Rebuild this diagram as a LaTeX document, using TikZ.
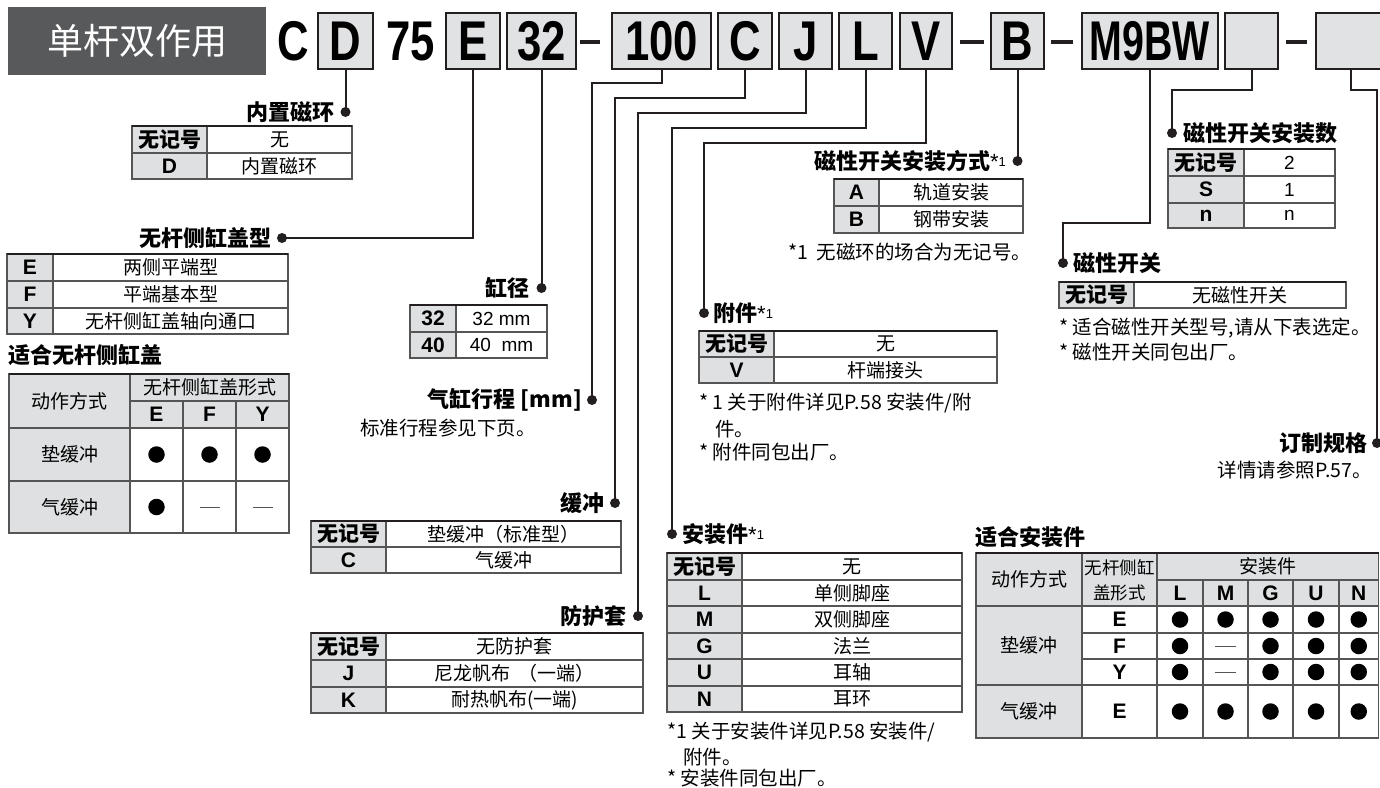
\documentclass[tikz,border=0pt]{standalone}
\usepackage{fontspec}
\setmainfont{Noto Sans CJK SC}
\newfontfamily\lat{Liberation Sans}
\newfontfamily\codefont[FakeStretch=0.78]{Liberation Sans Bold}
\definecolor{ink}{HTML}{231F20}
\definecolor{hdr}{HTML}{58595B}
\definecolor{boxgray}{HTML}{E1E2E3}
\definecolor{keyfill}{HTML}{DFE0E1}
\definecolor{tgray}{HTML}{555555}
\newcommand\kvrow[8]{%
  \fill[keyfill] (#2,#5) rectangle (#3,#6);
  \draw[tline] (#2,#5) rectangle (#4,#6);
  \draw[tline] (#3,#5) -- (#3,#6);
  \node[keyt] (#1k) at ({(#2+#3)/2},{(#5+#6)/2}) {#7};
  \node[valt] (#1v) at ({(#3+#4)/2},{(#5+#6)/2}) {#8};
}
\newcommand\astone{{\lat\mdseries\fontsize{22}{22}\selectfont *}\raisebox{3pt}{\lat\mdseries\fontsize{13}{13}\selectfont 1}}
\begin{document}
\begin{tikzpicture}[x=1pt,y=-1pt,
  codebox/.style={draw=ink, line width=2pt, fill=boxgray, minimum height=56pt, inner sep=0pt,
    font=\codefont\fontsize{56}{56}\selectfont, text depth=0pt},
  codetxt/.style={font=\codefont\fontsize{56}{56}\selectfont, inner sep=0pt, text depth=0pt},
  lbl/.style={font=\bfseries\fontsize{22}{24}\selectfont, inner sep=0pt},
  note/.style={font=\fontsize{19.5}{21}\selectfont, inner sep=0pt, anchor=west},
  ldot/.style={circle, fill=ink, inner sep=0pt, minimum size=10pt},
  conn/.style={draw=ink, line width=2pt},
  keyt/.style={font=\bfseries\fontsize{21}{21}\selectfont, inner sep=0pt},
  valt/.style={font=\fontsize{19}{19}\selectfont, inner sep=0pt},
  hdt/.style={font=\fontsize{19}{19}\selectfont, inner sep=0pt},
  lett/.style={font=\lat\bfseries\fontsize{21}{21}\selectfont, inner sep=0pt},
  tline/.style={draw=tgray, line width=1.3pt},
  topline/.style={draw=ink, line width=2.5pt},
  bigdot/.style={circle, fill=black, inner sep=0pt, minimum size=16.5pt},
  nodash/.style={draw=tgray, line width=1pt},
]
\useasboundingbox (0,0) rectangle (1380,787);

% ---------- header ----------
\node[fill=hdr, minimum width=258pt, minimum height=68pt, inner sep=0pt,
      text=white, font=\fontsize{36}{36}\selectfont] (hd) at (137,41) {单杆双作用};
\node[codetxt] (tC) at (293,41) {C};
\node[codebox, minimum width=55pt] (bD) at (345.5,41) {D};
\node[codetxt] (t75) at (411,41) {75};
\node[codebox, minimum width=54pt] (bE) at (473,41) {E};
\node[codebox, minimum width=69pt] (b32) at (541.5,41) {32};
\fill[ink] (580,39.5) rectangle (600,43.5);
\node[codebox, minimum width=99pt] (b100) at (661.5,41) {100};
\node[codebox, minimum width=54pt] (bC) at (745,41) {C};
\node[codebox, minimum width=53pt] (bJ) at (805.5,41) {J};
\node[codebox, minimum width=53pt] (bL) at (865.5,41) {L};
\node[codebox, minimum width=52pt] (bV) at (926,41) {V};
\fill[ink] (960,39.5) rectangle (984,43.5);
\node[codebox, minimum width=53pt] (bB) at (1017.5,41) {B};
\fill[ink] (1051,39.5) rectangle (1073,43.5);
\node[codebox, minimum width=136pt] (bM) at (1150,41) {\scalebox{0.9}[1]{M9BW}};
\node[codebox, minimum width=53pt] (bX1) at (1251.5,41) {};
\fill[ink] (1286,39.5) rectangle (1307,43.5);
\node[codebox, minimum width=70pt] (bX2) at (1351,41) {};

% ---------- labels, dots, connectors ----------
\node[lbl, anchor=east] (lD) at (335,112) {内置磁环};
\node[ldot] (dD) at (345.5,112) {};
\draw[conn] (dD.center) -- (bD.south);

\node[lbl, anchor=east] (lE) at (272,238) {无杆侧缸盖型};
\node[ldot] (dE) at (282,238) {};
\draw[conn] (dE.center) -| (bE.south);

\node[lbl, anchor=east] (l32) at (530,288) {缸径};
\node[ldot] (d32) at (541.5,288) {};
\draw[conn] (d32.center) -- (b32.south);

\node[lbl, anchor=east] (lP) at (582,400) {气缸行程 [mm]};
\node[ldot] (dP) at (592,400) {};
\coordinate (kP) at (661.5,83);
\draw[conn] (dP.center) |- (kP) -- (b100.south);

\node[lbl, anchor=east] (lC) at (605,503) {缓冲};
\node[ldot] (dC) at (615,503) {};
\coordinate (kC) at (745,98);
\draw[conn] (dC.center) |- (kC) -- (bC.south);

\node[lbl, anchor=east] (lJ) at (627,616) {防护套};
\node[ldot] (dJ) at (638,616) {};
\coordinate (kJ) at (805.5,113);
\draw[conn] (dJ.center) |- (kJ) -- (bJ.south);

\node[ldot] (dL) at (672,534) {};
\node[lbl, anchor=west] (lL) at (682,534) {安装件\astone};
\coordinate (kL) at (865.5,128);
\draw[conn] (dL.center) |- (kL) -- (bL.south);

\node[ldot] (dV) at (704,313) {};
\node[lbl, anchor=west] (lV) at (713,313) {附件\astone};
\coordinate (kV) at (926,143);
\draw[conn] (dV.center) |- (kV) -- (bV.south);

\node[lbl, anchor=east] (lB) at (1006,161) {磁性开关安装方式\astone};
\node[ldot] (dB) at (1017.5,161) {};
\draw[conn] (dB.center) -- (bB.south);

\node[ldot] (dN) at (1172,133) {};
\node[lbl, anchor=west] (lN) at (1183,133) {磁性开关安装数};
\coordinate (kN) at (1251.5,90);
\draw[conn] (dN.center) |- (kN) -- (bX1.south);

\node[ldot] (dM) at (1063,263) {};
\node[lbl, anchor=west] (lM) at (1073,263) {磁性开关};
\coordinate (kM) at (1150,223);
\draw[conn] (dM.center) |- (kM) -- (bM.south);

\node[lbl, anchor=east] (lO) at (1368,443) {订制规格};
\node[ldot] (dO) at (1377,443) {};
\coordinate (kO) at (1351,90);
\draw[conn] (dO.center) |- (kO) -- (bX2.south);

% ---------- tables ----------
\kvrow{ta1}{132}{207}{352}{126}{153}{无记号}{无}
\kvrow{ta2}{132}{207}{352}{153}{179}{\lat D}{内置磁环}
\draw[topline] (132,126) -- (352,126);

\kvrow{tb1}{7}{53}{288}{254}{281}{\lat E}{两侧平端型}
\kvrow{tb2}{7}{53}{288}{281}{308}{\lat F}{平端基本型}
\kvrow{tb3}{7}{53}{288}{308}{334}{\lat Y}{无杆侧缸盖轴向通口}
\draw[topline] (7,254) -- (288,254);

\kvrow{tc1}{410}{456}{547}{305}{332}{\lat 32}{\lat 32 mm}
\kvrow{tc2}{410}{456}{547}{332}{358}{\lat 40}{\lat 40\ \ mm}
\draw[topline] (410,305) -- (547,305);

\kvrow{td1}{311}{386}{621}{521}{547}{无记号}{垫缓冲（标准型）}
\kvrow{td2}{311}{386}{621}{547}{573}{\lat C}{气缓冲}
\draw[topline] (311,521) -- (621,521);

\kvrow{te1}{311}{386}{643}{633}{660}{无记号}{无防护套}
\kvrow{te2}{311}{386}{643}{660}{687}{\lat J}{尼龙帆布\ \ （一端）}
\kvrow{te3}{311}{386}{643}{687}{713}{\lat K}{耐热帆布(一端)}
\draw[topline] (311,633) -- (643,633);

\kvrow{tf1}{699}{774}{997}{331}{357}{无记号}{无}
\kvrow{tf2}{699}{774}{997}{357}{383}{\lat V}{杆端接头}
\draw[topline] (699,331) -- (997,331);

\kvrow{tg1}{667}{742}{962}{553}{580}{无记号}{无}
\kvrow{tg2}{667}{742}{962}{580}{606}{\lat L}{单侧脚座}
\kvrow{tg3}{667}{742}{962}{606}{633}{\lat M}{双侧脚座}
\kvrow{tg4}{667}{742}{962}{633}{659}{\lat G}{法兰}
\kvrow{tg5}{667}{742}{962}{659}{686}{\lat U}{耳轴}
\kvrow{tg6}{667}{742}{962}{686}{712}{\lat N}{耳环}
\draw[topline] (667,553) -- (962,553);

\kvrow{th1}{834}{879}{1023}{179}{206}{\lat A}{轨道安装}
\kvrow{th2}{834}{879}{1023}{206}{233}{\lat B}{钢带安装}
\draw[topline] (834,179) -- (1023,179);

\kvrow{ti1}{1168}{1244}{1335}{149}{176}{无记号}{\lat 2}
\kvrow{ti2}{1168}{1244}{1335}{176}{203}{\lat S}{\lat 1}
\kvrow{ti3}{1168}{1244}{1335}{203}{228}{\lat n}{\lat n}
\draw[topline] (1168,149) -- (1335,149);

\kvrow{tj1}{1059}{1134}{1346}{282}{308}{无记号}{无磁性开关}
\draw[topline] (1059,282) -- (1346,282);

% ---------- notes ----------
\node[note] (n1) at (360,428) {标准行程参见下页。};
\node[note] (n2) at (699,403) {* 1 关于附件详见P.58 安装件/附};
\node[note] (n3) at (715,429) {件。};
\node[note] (n4) at (699,452) {* 附件同包出厂。};
\node[note] (n5) at (667,732) {*1 关于安装件详见P.58 安装件/};
\node[note] (n6) at (683,757) {附件。};
\node[note] (n7) at (667,778) {* 安装件同包出厂。};
\node[note] (n8) at (788,252) {*1\ \ 无磁环的场合为无记号。};
\node[note] (n9) at (1059,328) {* 适合磁性开关型号,请从下表选定。};
\node[note] (n10) at (1059,352) {* 磁性开关同包出厂。};
\node[note, anchor=east] (n11) at (1372,470) {详情请参照P.57。};

% ---------- 适合无杆侧缸盖 ----------
\node[lbl, anchor=west] (lT1) at (8,355) {适合无杆侧缸盖};
\fill[keyfill] (9,374) rectangle (289,428);
\fill[keyfill] (9,428) rectangle (130,533);
\draw[tline] (9,374) rectangle (289,533);
\draw[tline] (130,401) -- (289,401);
\draw[tline] (9,428) -- (289,428);
\draw[tline] (9,481) -- (289,481);
\draw[tline] (130,374) -- (130,533);
\draw[tline] (183,401) -- (183,533);
\draw[tline] (236,401) -- (236,533);
\draw[topline] (9,374) -- (289,374);
\node[hdt] (u1) at (69.5,401) {动作方式};
\node[hdt] (u2) at (209.5,387.5) {无杆侧缸盖形式};
\node[lett] (u3) at (156.5,414.5) {E};
\node[lett] (u4) at (209.5,414.5) {F};
\node[lett] (u5) at (262.5,414.5) {Y};
\node[hdt] (u6) at (69.5,454.5) {垫缓冲};
\node[hdt] (u7) at (69.5,507) {气缓冲};
\node[bigdot] (u8) at (156.5,454.5) {};
\node[bigdot] (u9) at (209.5,454.5) {};
\node[bigdot] (u10) at (262.5,454.5) {};
\node[bigdot] (u11) at (156.5,507) {};
\draw[nodash] (199.5,507) -- (219.5,507);
\draw[nodash] (252.5,507) -- (272.5,507);

% ---------- 适合安装件 ----------
\node[lbl, anchor=west] (lT2) at (975,537) {适合安装件};
\fill[keyfill] (976,553) rectangle (1378.5,606);
\fill[keyfill] (976,606) rectangle (1082,738);
\draw[tline] (976,553) rectangle (1378.5,738);
\draw[tline] (1157,580) -- (1378.5,580);
\draw[tline] (976,606) -- (1378.5,606);
\draw[tline] (1082,633) -- (1378.5,633);
\draw[tline] (1082,659) -- (1378.5,659);
\draw[tline] (976,685) -- (1378.5,685);
\draw[tline] (1082,553) -- (1082,738);
\draw[tline] (1157,553) -- (1157,738);
\foreach \xx in {1203,1248,1293,1339} \draw[tline] (\xx,580) -- (\xx,738);
\draw[topline] (976,553) -- (1378.5,553);
\node[hdt] (w1) at (1029,579.5) {动作方式};
\node[hdt, font=\fontsize{17.5}{25}\selectfont, align=center] (w2) at (1119.5,580) {无杆侧缸\\盖形式};
\node[hdt] (w3) at (1268,566.5) {安装件};
\node[lett] (wL) at (1180,593) {L};
\node[lett] (wM) at (1225.5,593) {M};
\node[lett] (wG) at (1270.5,593) {G};
\node[lett] (wU) at (1316,593) {U};
\node[lett] (wN) at (1358.75,593) {N};
\node[hdt] (w4) at (1029,645.5) {垫缓冲};
\node[hdt] (w5) at (1029,711.5) {气缓冲};
\node[lett] (w6) at (1119.5,619.5) {E};
\node[lett] (w7) at (1119.5,646) {F};
\node[lett] (w8) at (1119.5,672) {Y};
\node[lett] (w9) at (1119.5,711.5) {E};
\foreach \yy/\r in {619.5/1, 711.5/4} {
  \foreach \xx/\c in {1180/1,1225.5/2,1270.5/3,1316/4,1358.75/5}
    \node[bigdot] (z\r-\c) at (\xx,\yy) {};
}
\foreach \yy/\r in {646/2, 672/3} {
  \foreach \xx/\c in {1180/1,1270.5/3,1316/4,1358.75/5}
    \node[bigdot] (z\r-\c) at (\xx,\yy) {};
  \draw[nodash] (1215,\yy) -- (1236,\yy);
}
\end{tikzpicture}
\end{document}
